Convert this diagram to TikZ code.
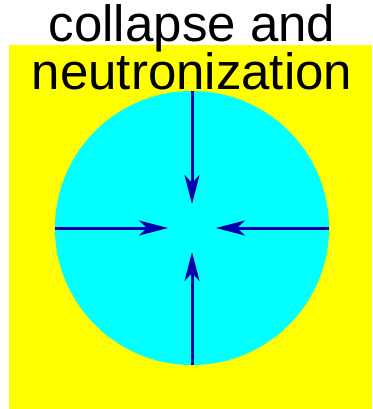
\documentclass[tikz,border=0pt]{standalone}
\usepackage{fontspec}
\setmainfont{Liberation Sans}
\usetikzlibrary{arrows.meta}
\definecolor{arr}{RGB}{0,0,170}
\definecolor{bg}{RGB}{255,255,0}
\definecolor{ball}{RGB}{0,255,255}
\tikzset{inarrow/.style={draw=arr,line width=3pt,-{Stealth[length=29pt,width=15pt,inset=8pt]}}}
\begin{document}
\begin{tikzpicture}[x=1pt,y=-1pt]
\useasboundingbox (0,0) rectangle (372,409);
\fill[bg] (9,45) rectangle (372,409);
\fill[ball] (192,228) circle[radius=137];
\coordinate (top) at (192,91);
\coordinate (bot) at (192,365);
\coordinate (lft) at (55,228);
\coordinate (rgt) at (329,228);
\coordinate (ttip) at (192,204);
\coordinate (btip) at (192,252);
\coordinate (ltip) at (168,228);
\coordinate (rtip) at (216,228);
\draw[inarrow] (top) -- (ttip);
\draw[inarrow] (bot) -- (btip);
\draw[inarrow] (lft) -- (ltip);
\draw[inarrow] (rgt) -- (rtip);
\node[font=\fontsize{51}{47}\selectfont, align=center, anchor=base] (title) at (192,90) {collapse and\\neutronization};
\end{tikzpicture}
\end{document}
